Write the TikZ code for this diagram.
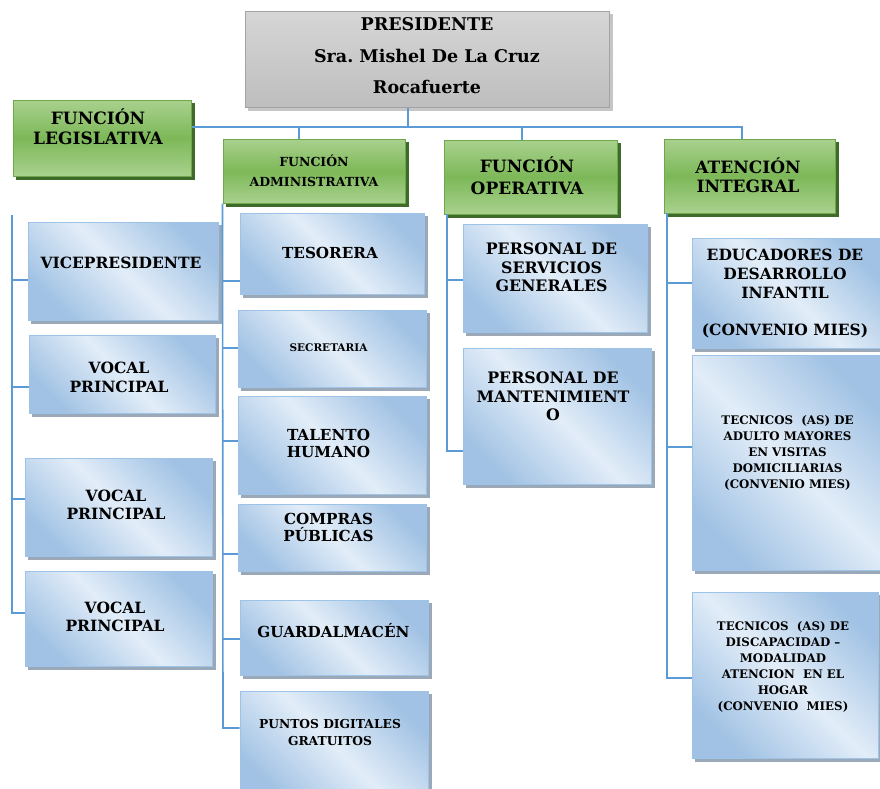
\documentclass[tikz,border=0pt]{standalone}
\usepackage{fontspec}
\setmainfont{DejaVu Serif}
\usetikzlibrary{fit,backgrounds}
\definecolor{conncol}{HTML}{5B9BD5}
\definecolor{bluedark}{HTML}{A1C2E4}
\definecolor{bluelight}{HTML}{E2EDF8}
\definecolor{blueborder}{HTML}{9DC3E6}
\definecolor{blueshadow}{HTML}{9AA8B8}
\definecolor{greentop}{HTML}{A9D18E}
\definecolor{greenmid}{HTML}{7DB858}
\definecolor{greenborder}{HTML}{6FA84A}
\definecolor{greenshadow}{HTML}{3E6A2A}
\definecolor{graytop}{HTML}{D6D6D6}
\definecolor{graybot}{HTML}{BEBEBE}
\definecolor{grayborder}{HTML}{A3A3A3}
\tikzset{
  bluebox/.style={draw=blueborder, line width=1pt, inner sep=0pt,
    top color=bluedark, bottom color=bluedark, middle color=bluelight, shading angle=-45},
  greenbox/.style={draw=greenborder, line width=1pt, inner sep=0pt,
    top color=greentop, bottom color=greentop, middle color=greenmid},
  graybox/.style={draw=grayborder, line width=1pt, inner sep=0pt,
    top color=graytop, bottom color=graybot},
  txt/.style={align=center, inner sep=0pt, text=black},
  conn/.style={draw=conncol, line width=1.6pt},
}
\newcommand{\fs}[2]{\fontsize{#1}{#2}\selectfont\bfseries}
\newcommand{\shadowof}[2]{\fill[#2] ([shift={(3,3)}]#1.north west) rectangle ([shift={(3,3)}]#1.south east);}
\begin{document}
\begin{tikzpicture}[x=1pt, y=-1pt]
\useasboundingbox (0,0) rectangle (880,788);
% ---------- boxes ----------
\node[graybox, fit={(245,11) (609,107)}] (pres) {};
\node[greenbox, fit={(13,100) (191,176)}] (leg) {};
\node[greenbox, fit={(223,139) (405,203)}] (adm) {};
\node[greenbox, fit={(444,140) (617,214)}] (op) {};
\node[greenbox, fit={(664,139) (835,213)}] (ate) {};
% legislativa
\node[bluebox, fit={(28,222) (218,320)}] (vp) {};
\node[bluebox, fit={(29,335) (215,413)}] (v1) {};
\node[bluebox, fit={(25,458) (212,556)}] (v2) {};
\node[bluebox, fit={(25,571) (212,666)}] (v3) {};
% administrativa
\node[bluebox, fit={(240,213) (424,294)}] (tes) {};
\node[bluebox, fit={(238,310) (426,387)}] (sec) {};
\node[bluebox, fit={(238,396) (426,494)}] (tal) {};
\node[bluebox, fit={(238,504) (426,571)}] (com) {};
\node[bluebox, fit={(240,600) (428,675)}] (gua) {};
\node[bluebox, fit={(240,691) (428,800)}] (pun) {};
% operativa
\node[bluebox, fit={(463,224) (647,332)}] (psg) {};
\node[bluebox, fit={(463,348) (651,484)}] (pm) {};
% atencion
\node[bluebox, fit={(692,238) (884,348)}] (edu) {};
\node[bluebox, fit={(692,355) (884,570)}] (tea) {};
\node[bluebox, fit={(692,592) (878,758)}] (ted) {};
% ---------- shadows ----------
\begin{pgfonlayer}{background}
\shadowof{pres}{gray!45}
\shadowof{leg}{greenshadow}
\shadowof{adm}{greenshadow}
\shadowof{op}{greenshadow}
\shadowof{ate}{greenshadow}
\foreach \n in {vp,v1,v2,v3,tes,sec,tal,com,gua,pun,psg,pm,edu,tea,ted}{\shadowof{\n}{blueshadow}}
\end{pgfonlayer}
% ---------- texts ----------
\node[txt, font=\fs{17.5}{31.5}] (presT) at (427,56) {PRESIDENTE\\Sra.\ Mishel De La Cruz\\Rocafuerte};
\node[txt, font=\fs{17}{20}] (legT) at (98,127) {FUNCIÓN\\LEGISLATIVA};
\node[txt, font=\fs{12.5}{20}] (admT) at (314,171) {FUNCIÓN\\ADMINISTRATIVA};
\node[txt, font=\fs{17}{22}] (opT) at (527,176) {FUNCIÓN\\OPERATIVA};
\node[txt, font=\fs{17}{19}] (ateT) at (748,175.5) {ATENCIÓN\\INTEGRAL};
\node[txt, font=\fs{15.5}{19}] (vpT) at (121,263) {VICEPRESIDENTE};
\node[txt, font=\fs{15.5}{19}] (v1T) at (119,377.5) {VOCAL\\PRINCIPAL};
\node[txt, font=\fs{15.5}{17.5}] (v2T) at (116,505) {VOCAL\\PRINCIPAL};
\node[txt, font=\fs{15.5}{17.5}] (v3T) at (115,617) {VOCAL\\PRINCIPAL};
\node[txt, font=\fs{15.2}{19}] (tesT) at (330,253) {TESORERA};
\node[txt, font=\fs{10.5}{12}] (secT) at (328.5,348) {SECRETARIA};
\node[txt, font=\fs{15.2}{17.5}] (talT) at (328.5,443.5) {TALENTO\\HUMANO};
\node[txt, font=\fs{15.2}{17}] (comT) at (328.5,527.5) {COMPRAS\\PÚBLICAS};
\node[txt, font=\fs{15.2}{19}] (guaT) at (333.5,631) {GUARDALMACÉN};
\node[txt, font=\fs{12.3}{17}] (punT) at (330,732.5) {PUNTOS DIGITALES\\GRATUITOS};
\node[txt, font=\fs{15.8}{18.5}] (psgT) at (551.5,267.5) {PERSONAL DE\\SERVICIOS\\GENERALES};
\node[txt, font=\fs{15.8}{18.5}] (pmT) at (553,396.5) {PERSONAL DE\\MANTENIMIENT\\O};
\node[txt, font=\fs{15.5}{18.75}] (eduT) at (785,293.5) {EDUCADORES DE\\DESARROLLO\\INFANTIL\\[18.75pt](CONVENIO MIES)};
\node[txt, font=\fs{11.8}{16}] (teaT) at (787.5,453) {TECNICOS \ (AS) DE\\ADULTO MAYORES\\EN VISITAS\\DOMICILIARIAS\\(CONVENIO MIES)};
\node[txt, font=\fs{11.8}{16}] (tedT) at (783,667) {TECNICOS \ (AS) DE\\DISCAPACIDAD –\\MODALIDAD\\ATENCION \ EN EL\\HOGAR\\(CONVENIO \ MIES)};
% ---------- connectors ----------
\coordinate (bus) at (408,127);
\coordinate (bA) at (299,127);
\coordinate (bO) at (522,127);
\coordinate (bT) at (742,127);
\draw[conn] (pres.south -| bus) -- (bus);
\draw[conn] (leg.east |- bus) -- (bT) -- (bT |- ate.north);
\draw[conn] (bA) -- (bA |- adm.north);
\draw[conn] (bO) -- (bO |- op.north);
% legislativa spine
\coordinate (lTop) at (12,215);
\coordinate (l1) at (12,280);
\coordinate (l2) at (12,387);
\coordinate (l3) at (12,499);
\coordinate (l4) at (12,613);
\draw[conn] (lTop) -- (l4) -- (l4 -| v3.west);
\draw[conn] (l1) -- (l1 -| vp.west);
\draw[conn] (l2) -- (l2 -| v1.west);
\draw[conn] (l3) -- (l3 -| v2.west);
% administrativa spine
\coordinate (a1) at (223,281);
\coordinate (a2) at (223,348);
\coordinate (a3) at (223,441);
\coordinate (a4) at (223,554);
\coordinate (a5) at (223,639);
\coordinate (a6) at (223,728);
\draw[conn] (adm.south west) -- (a6) -- (a6 -| pun.west);
\draw[conn] (a1) -- (a1 -| tes.west);
\draw[conn] (a2) -- (a2 -| sec.west);
\draw[conn] (a3) -- (a3 -| tal.west);
\draw[conn] (a4) -- (a4 -| com.west);
\draw[conn] (a5) -- (a5 -| gua.west);
% operativa spine
\coordinate (oTop) at (447,214);
\coordinate (o1) at (447,280);
\coordinate (o2) at (447,451);
\draw[conn] (oTop) -- (o2) -- (o2 -| pm.west);
\draw[conn] (o1) -- (o1 -| psg.west);
% atencion spine
\coordinate (tTop) at (667,213);
\coordinate (t1) at (667,283);
\coordinate (t2) at (667,447);
\coordinate (t3) at (667,678);
\draw[conn] (tTop) -- (t3) -- (t3 -| ted.west);
\draw[conn] (t1) -- (t1 -| edu.west);
\draw[conn] (t2) -- (t2 -| tea.west);
\end{tikzpicture}
\end{document}
